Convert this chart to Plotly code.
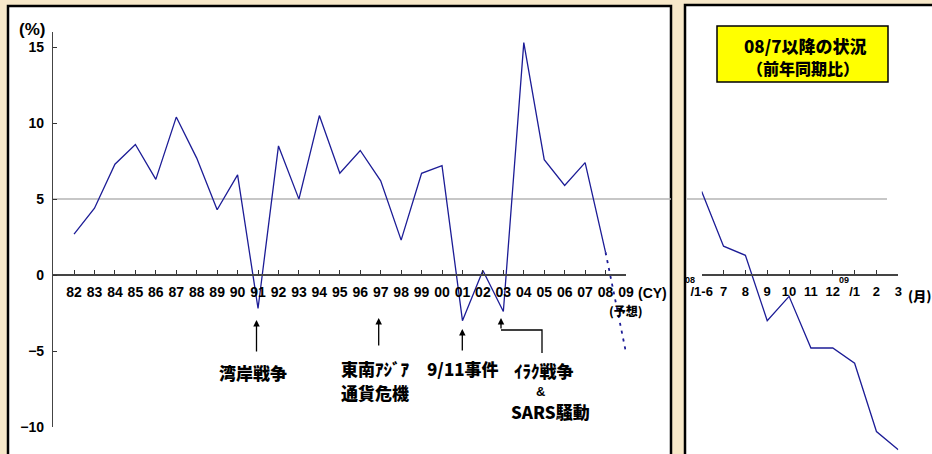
import plotly.graph_objects as go

# ---------------- data ----------------
year_labels = ["82", "83", "84", "85", "86", "87", "88", "89", "90", "91",
               "92", "93", "94", "95", "96", "97", "98", "99", "00", "01",
               "02", "03", "04", "05", "06", "07", "08", "09"]
annual_growth = [2.7, 4.4, 7.3, 8.6, 6.3, 10.4, 7.7, 4.3, 6.6, -2.2,
                 8.5, 5.0, 10.5, 6.7, 8.2, 6.2, 2.3, 6.7, 7.2, -3.0,
                 0.3, -2.4, 15.3, 7.6, 5.9, 7.4, 1.5]          # 82 .. 08
forecast_labels = ["08", "09"]
forecast_growth = [1.5, -5.1]                                   # 08 -> 09 (予想)

month_labels = ["/1-6", "7", "8", "9", "10", "11", "12", "/1", "2", "3"]
monthly_growth = [5.5, 1.9, 1.3, -3.0, -1.4, -4.8, -4.8, -5.8, -10.3, -11.5]

y_ticks = [-10, -5, 0, 5, 10, 15]
reference_level = 5

# ---------------- layout helpers ----------------
W, H = 932, 454
def px(x):
    return x / W
def py(y):
    return 1 - y / H

LINE = "#1c1c96"
FONT = "Liberation Sans, Arial, sans-serif"
CJK = "Noto Sans CJK JP, sans-serif"

y_top_px, y_bot_px = 32, 427
y_min, y_max = -10, 16
scale = (y_bot_px - y_top_px) / (y_max - y_min)
y2_min = y_min - (H - y_bot_px) / scale
zero_paper = py(y_top_px + y_max * scale)

x_idx = list(range(len(year_labels)))
fc_idx = [year_labels.index(l) for l in forecast_labels]
m_idx = list(range(len(month_labels)))

fig = go.Figure()
fig.add_trace(go.Scatter(x=x_idx[:len(annual_growth)], y=annual_growth, mode="lines",
                         line=dict(color=LINE, width=1.3), xaxis="x", yaxis="y",
                         hoverinfo="skip", showlegend=False))
fig.add_trace(go.Scatter(x=fc_idx, y=forecast_growth, mode="lines",
                         line=dict(color=LINE, width=1.8, dash="3px,5px"),
                         xaxis="x", yaxis="y", hoverinfo="skip", showlegend=False))
fig.add_trace(go.Scatter(x=m_idx, y=monthly_growth, mode="lines",
                         line=dict(color=LINE, width=1.3), xaxis="x2", yaxis="y2",
                         hoverinfo="skip", showlegend=False))

shapes = [
    # panels
    dict(type="rect", xref="paper", yref="paper", x0=px(8), x1=px(671), y0=py(480), y1=py(6),
         fillcolor="white", line=dict(color="black", width=2.5), layer="below"),
    dict(type="rect", xref="paper", yref="paper", x0=px(685), x1=px(950), y0=py(480), y1=py(5),
         fillcolor="white", line=dict(color="black", width=2.5), layer="below"),
    # reference lines
    dict(type="line", xref="paper", yref="y", x0=px(53), x1=px(671), y0=reference_level,
         y1=reference_level, line=dict(color="#b4b4b4", width=1.5), layer="below"),
    dict(type="line", xref="paper", yref="y2", x0=px(687), x1=px(887), y0=reference_level,
         y1=reference_level, line=dict(color="#b4b4b4", width=1.5), layer="below"),
    # elbow connector for Iraq war
    dict(type="path", xref="paper", yref="paper",
         path=f"M {px(501)},{py(330)} L {px(542)},{py(330)} L {px(542)},{py(353)}",
         line=dict(color="black", width=1.3)),
    # title box
    dict(type="rect", xref="paper", yref="paper", x0=px(717), x1=px(888), y0=py(82), y1=py(26),
         fillcolor="#ffff00", line=dict(color="black", width=1.5)),
]

ann = []
def text(x, y, s, size=13, family=FONT, weight="bold", **kw):
    ann.append(dict(x=px(x), y=py(y), xref="paper", yref="paper", text=s, showarrow=False,
                    font=dict(family=family, size=size, color="black", weight=weight),
                    xanchor="center", yanchor="middle", **kw))
def arrow(x, y, length):
    ann.append(dict(x=px(x), y=py(y), xref="paper", yref="paper", text="", showarrow=True,
                    ax=0, ay=length, arrowhead=2, arrowsize=1, arrowwidth=1.3,
                    arrowcolor="black"))

text(32, 30, "(%)", 17)
text(652, 293, "(CY)", 14)
text(626, 310, "(予想)", 12, CJK, 900)

arrow(256.5, 320, 33)
text(252.5, 372, "湾岸戦争", 17, CJK, 900)
arrow(378.7, 318, 29)
text(375, 368, "東南ｱｼﾞｱ", 17, CJK, 900)
text(375, 392, "通貨危機", 17, CJK, 900)
arrow(462.3, 329, 23)
text(462.5, 368, "9/11事件", 17, CJK, 900)
arrow(501, 318, 12)
text(543.5, 370, "ｲﾗｸ戦争", 17, CJK, 900)
text(540, 391, "&", 13)
text(550, 411, "SARS騒動", 17, CJK, 900)

text(805, 45, "08/7以降の状況", 17, CJK, 900)
text(803, 68, "（前年同期比）", 16, CJK, 900)
text(690, 279.5, "08", 9)
text(843.5, 280, "09", 9)
text(919, 295, "(月)", 13, CJK, 900)

tickfont = dict(family=FONT, size=14, color="black", weight="bold")
fig.update_layout(
    width=W, height=H,
    margin=dict(l=0, r=0, t=0, b=0),
    paper_bgcolor="#f7e8c9",
    plot_bgcolor="rgba(0,0,0,0)",
    shapes=shapes,
    annotations=ann,
    xaxis=dict(domain=[px(53), px(626)], range=[-1.03, len(year_labels) - 1],
               anchor="free", position=zero_paper,
               tickmode="array", tickvals=x_idx, ticktext=year_labels,
               ticks="inside", ticklen=4, tickcolor="#333", tickwidth=1,
               showline=True, linecolor="#444", linewidth=1.5,
               showgrid=False, zeroline=False, automargin=False,
               ticklabelstandoff=4, tickfont=tickfont),
    yaxis=dict(domain=[py(y_bot_px), py(y_top_px)], range=[y_min, y_max],
               anchor="x", tickmode="array", tickvals=y_ticks,
               ticks="inside", ticklen=4, tickcolor="#333",
               showline=True, linecolor="#444", linewidth=1.2,
               showgrid=False, zeroline=False, automargin=False,
               ticklabelstandoff=5, tickfont=tickfont),
    xaxis2=dict(domain=[px(701.7), px(898.3)], range=[0, len(month_labels) - 1],
                anchor="free", position=zero_paper,
                tickmode="array", tickvals=m_idx, ticktext=month_labels,
                ticks="inside", ticklen=4, tickcolor="#333",
                showline=True, linecolor="#444", linewidth=1.5,
                showgrid=False, zeroline=False, automargin=False,
                ticklabelstandoff=5, tickfont=dict(family=FONT, size=13, color="black", weight="bold")),
    yaxis2=dict(domain=[0, py(y_top_px)], range=[y2_min, y_max], anchor="x2",
                visible=False, showgrid=False, zeroline=False),
)

fig.write_html("out.html")
